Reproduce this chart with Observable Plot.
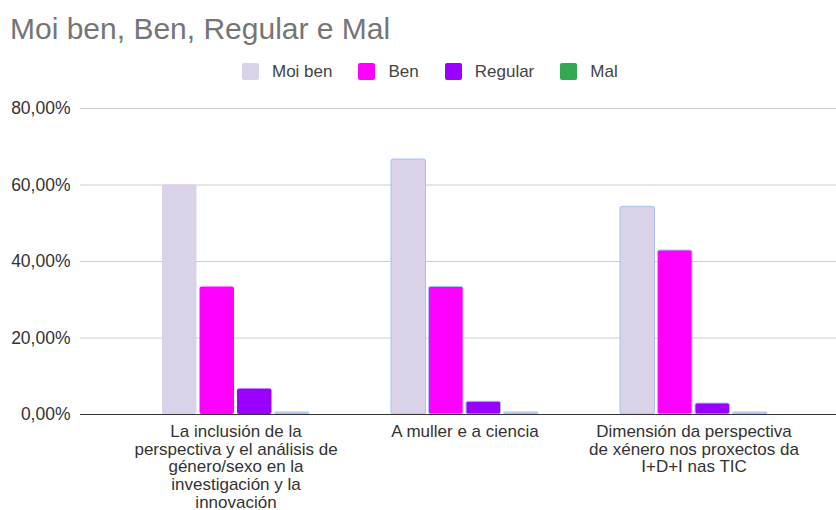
<!DOCTYPE html>
<html><head><meta charset="utf-8">
<script src="https://cdn.jsdelivr.net/npm/d3@7"></script>
<script src="https://cdn.jsdelivr.net/npm/@observablehq/plot@0.6"></script>
<style>
body{margin:0;width:836px;height:510px;position:relative;background:#fff;font-family:Arial,"Liberation Sans",sans-serif;overflow:hidden}
#title{position:absolute;left:10px;top:12px;font-size:30px;color:#757575;white-space:nowrap}
#legend{position:absolute;left:242px;top:63px;display:flex;gap:26px;font-size:17px;color:#444}
.item{display:flex;align-items:center;gap:13px;height:17px}
.sw{width:17px;height:17px;border-radius:2px}
#chart{position:absolute;left:0;top:90px}
</style>
</head><body>
<div id="title">Moi ben, Ben, Regular e Mal</div>
<div id="legend"></div>
<div id="chart"></div>
<script>
const categories = [
  "La inclusión de la perspectiva y el análisis de género/sexo en la investigación y la innovación",
  "A muller e a ciencia",
  "Dimensión da perspectiva de xénero nos proxectos da I+D+I nas TIC"
];
const tickLabels = [
  "La inclusión de la\nperspectiva y el análisis de\ngénero/sexo en la\ninvestigación y la\ninnovación",
  "A muller e a ciencia",
  "Dimensión da perspectiva\nde xénero nos proxectos da\nI+D+I nas TIC"
];
const seriesNames = ["Moi ben", "Ben", "Regular", "Mal"];
const moiBen = [60, 66.67, 54.29];
const ben = [33.33, 33.33, 42.86];
const regular = [6.67, 3.33, 2.86];
const mal = [0, 0, 0];
const seriesColors = ["#d9d2e9", "#ff00ff", "#9900ff", "#34a853"];
const yTicks = [0, 20, 40, 60, 80];

const seriesValues = [moiBen, ben, regular, mal];
const rows = [];
seriesNames.forEach((s, i) => categories.forEach((c, j) => rows.push({series: s, si: i, category: c, value: seriesValues[i][j]})));

// legend
const legend = document.getElementById("legend");
seriesNames.forEach((s, i) => {
  const it = document.createElement("div"); it.className = "item";
  const sw = document.createElement("div"); sw.className = "sw"; sw.style.background = seriesColors[i];
  const t = document.createElement("span"); t.textContent = s;
  it.appendChild(sw); it.appendChild(t); legend.appendChild(it);
});

const outline = "#a4c2f4";
const barMark = (i, extra = {}) => Plot.barY(rows.filter(d => d.si === i), {
  x: "category", y: "value", fill: seriesColors[i],
  stroke: d => (d.category !== categories[0] || i === 3) ? outline : "none",
  strokeWidth: 1,
  insetLeft: 41 + 37.5 * i, insetRight: 153.5 - 37.5 * i, rx: 2,
  ...extra
});

const chart = Plot.plot({
  width: 836, height: 420,
  marginLeft: 80, marginRight: 0, marginTop: 18, marginBottom: 96,
  style: {fontFamily: "Arial, 'Liberation Sans', sans-serif", fontSize: "17px", color: "#333", background: "#fff", overflow: "visible"},
  color: {type: "identity"},
  x: {domain: categories, range: [120.5, 807.5], padding: 0, axis: null},
  y: {domain: [0, 80], axis: null},
  marks: [
    Plot.gridY({ticks: yTicks, stroke: "#cccccc", strokeOpacity: 1}),
    barMark(0), barMark(1), barMark(2),
    Plot.ruleY([0], {stroke: "#333"}),
    barMark(3, {insetTop: -2, insetBottom: 0.5, fill: "#c9daf8", rx: 1}),
    Plot.axisY({ticks: yTicks, tickSize: 0, tickPadding: 10, label: null, fontSize: 17.5,
      tickFormat: d => d.toFixed(2).replace(".", ",") + "%"}),
    Plot.axisX({tickSize: 0, tickPadding: 10, label: null, fontSize: 17, lineHeight: 1.04,
      tickFormat: d => tickLabels[categories.indexOf(d)]})
  ]
});
document.getElementById("chart").appendChild(chart);
</script>
</body></html>
